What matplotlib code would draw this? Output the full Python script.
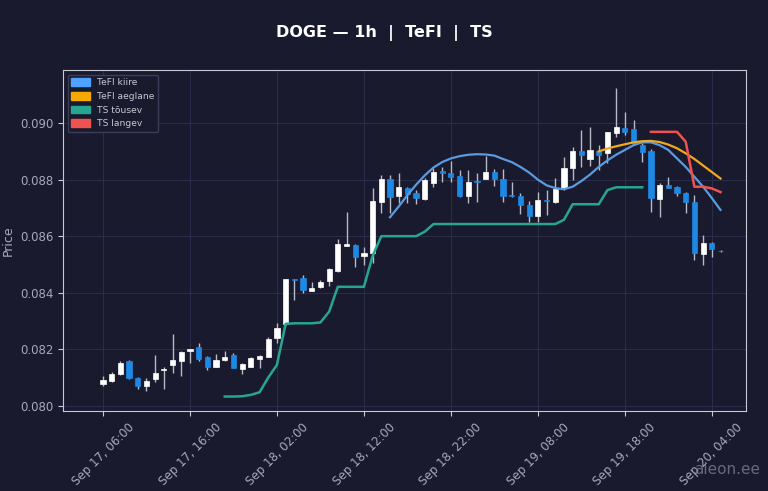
import numpy as np
import pandas as pd
import matplotlib
matplotlib.use('Agg')
import matplotlib.pyplot as plt
import matplotlib.dates as mdates
from matplotlib.patches import Patch

# hourly candles, Sep 17 06:00 -> Sep 20 05:00
times = pd.date_range('2025-09-17 06:00', periods=72, freq='h')

opens = [0.08077, 0.08089, 0.08112, 0.08159, 0.08098, 0.08071, 0.08095, 0.08128, 0.08144, 0.08160,
         0.08194, 0.08207, 0.08172, 0.08139, 0.08161, 0.08180, 0.08130, 0.08139, 0.08166, 0.08174,
         0.08239, 0.08290, 0.08449, 0.08451, 0.08407, 0.08419, 0.08442, 0.08478, 0.08565, 0.08569,
         0.08529, 0.08540, 0.08722, 0.08802, 0.08742, 0.08771, 0.08754, 0.08731, 0.08787, 0.08831,
         0.08822, 0.08813, 0.08742, 0.08795, 0.08801, 0.08828, 0.08801, 0.08746, 0.08742, 0.08710,
         0.08671, 0.08728, 0.08722, 0.08769, 0.08840, 0.08901, 0.08873, 0.08901, 0.08893, 0.08964,
         0.08984, 0.08978, 0.08922, 0.08901, 0.08731, 0.08781, 0.08773, 0.08754, 0.08720, 0.08537,
         0.08577, 0.08549]
highs = [0.08106, 0.08121, 0.08157, 0.08164, 0.08101, 0.08098, 0.08179, 0.08139, 0.08254, 0.08195,
         0.08202, 0.08222, 0.08177, 0.08183, 0.08194, 0.08186, 0.08151, 0.08174, 0.08180, 0.08243,
         0.08294, 0.08449, 0.08450, 0.08463, 0.08439, 0.08445, 0.08487, 0.08590, 0.08687, 0.08573,
         0.08561, 0.08769, 0.08816, 0.08816, 0.08822, 0.08774, 0.08763, 0.08805, 0.08840, 0.08846,
         0.08867, 0.08834, 0.08834, 0.08822, 0.08884, 0.08837, 0.08837, 0.08793, 0.08752, 0.08724,
         0.08757, 0.08763, 0.08805, 0.08879, 0.08916, 0.08975, 0.08985, 0.08922, 0.08969, 0.09123,
         0.09040, 0.09011, 0.08928, 0.08907, 0.08787, 0.08810, 0.08777, 0.08757, 0.08746, 0.08604,
         0.08581, 0.08550]
lows = [0.08071, 0.08086, 0.08110, 0.08094, 0.08059, 0.08054, 0.08084, 0.08060, 0.08118, 0.08104,
        0.08151, 0.08160, 0.08127, 0.08137, 0.08157, 0.08133, 0.08113, 0.08137, 0.08135, 0.08172,
        0.08222, 0.08285, 0.08375, 0.08400, 0.08405, 0.08417, 0.08424, 0.08475, 0.08565, 0.08490,
        0.08498, 0.08504, 0.08681, 0.08681, 0.08716, 0.08716, 0.08714, 0.08728, 0.08775, 0.08793,
        0.08793, 0.08740, 0.08716, 0.08722, 0.08801, 0.08777, 0.08722, 0.08740, 0.08678, 0.08651,
        0.08651, 0.08675, 0.08716, 0.08763, 0.08799, 0.08846, 0.08848, 0.08834, 0.08858, 0.08952,
        0.08958, 0.08928, 0.08863, 0.08687, 0.08669, 0.08769, 0.08742, 0.08681, 0.08516, 0.08498,
        0.08528, 0.08545]
closes = [0.08092, 0.08112, 0.08153, 0.08098, 0.08072, 0.08088, 0.08118, 0.08131, 0.08163, 0.08190,
          0.08200, 0.08165, 0.08139, 0.08163, 0.08174, 0.08135, 0.08147, 0.08169, 0.08177, 0.08237,
          0.08277, 0.08447, 0.08444, 0.08410, 0.08418, 0.08439, 0.08483, 0.08572, 0.08572, 0.08525,
          0.08540, 0.08724, 0.08801, 0.08740, 0.08773, 0.08748, 0.08734, 0.08799, 0.08826, 0.08822,
          0.08810, 0.08742, 0.08793, 0.08790, 0.08828, 0.08801, 0.08742, 0.08742, 0.08710, 0.08671,
          0.08728, 0.08724, 0.08766, 0.08840, 0.08901, 0.08887, 0.08905, 0.08887, 0.08967, 0.08987,
          0.08967, 0.08930, 0.08899, 0.08734, 0.08781, 0.08769, 0.08754, 0.08720, 0.08540, 0.08577,
          0.08554, 0.08546]

nan = np.nan
# TeFI fast / slow lines
tefi_fast = [nan] * 33 + [0.08667, 0.08705, 0.08745, 0.08782, 0.08815, 0.08843, 0.08862, 0.08875,
                          0.08883, 0.08888, 0.08890, 0.08889, 0.08885, 0.08873, 0.08862, 0.08845,
                          0.08825, 0.08800, 0.08780, 0.08770, 0.08766, 0.08775, 0.08795, 0.08818,
                          0.08845, 0.08868, 0.08888, 0.08905, 0.08922, 0.08932, 0.08932, 0.08922,
                          0.08905, 0.08875, 0.08845, 0.08810, 0.08775, 0.08735, 0.08693]
tefi_slow = [nan] * 57 + [0.08900, 0.08910, 0.08918, 0.08925, 0.08932, 0.08936, 0.08937, 0.08933,
                          0.08924, 0.08911, 0.08893, 0.08873, 0.08850, 0.08827, 0.08804]
# trailing stop lines
ts_up = [nan] * 14 + [0.08033, 0.08033, 0.08034, 0.08039, 0.08048, 0.08100, 0.08145, 0.08290,
                      0.08292, 0.08292, 0.08292, 0.08295, 0.08333, 0.08421, 0.08421, 0.08421,
                      0.08421, 0.08530, 0.08600, 0.08600, 0.08600, 0.08600, 0.08600, 0.08616,
                      0.08643, 0.08643, 0.08643, 0.08643, 0.08643, 0.08643, 0.08643, 0.08643,
                      0.08643, 0.08643, 0.08643, 0.08643, 0.08643, 0.08643, 0.08643, 0.08658,
                      0.08713, 0.08713, 0.08713, 0.08713, 0.08763, 0.08773, 0.08773, 0.08773,
                      0.08773] + [nan] * 9
ts_down = [nan] * 63 + [0.08969, 0.08969, 0.08969, 0.08969, 0.08934, 0.08775, 0.08775, 0.08769,
                        0.08756]

bg = '#1a1a2e'
up_col = '#ffffff'
down_col = '#1e88e5'
wick_col = '#b8b9c4'
txt_col = '#a6a9bd'

fig = plt.figure(figsize=(7.68, 4.91), dpi=100, facecolor=bg)
ax = fig.add_axes([0.082, 0.163, 0.889, 0.694], facecolor=bg)

x = mdates.date2num(times)
w = 0.6 / 24
for xi, o, h, l, c in zip(x, opens, highs, lows, closes):
    col = up_col if c >= o else down_col
    ax.vlines(xi, l, h, color=wick_col, linewidth=1.0, zorder=2)
    ax.bar(xi, max(abs(c - o), 0.000015), bottom=min(o, c), width=w, color=col,
           edgecolor=col, linewidth=0.5, zorder=3)

ax.plot(x, tefi_fast, color='#5a9be0', linewidth=1.6, zorder=4)
ax.plot(x, tefi_slow, color='#f0a81c', linewidth=1.6, zorder=4)
ax.plot(x, ts_up, color='#26a690', linewidth=1.8, zorder=4)
ax.plot(x, ts_down, color='#ef5350', linewidth=1.8, zorder=4)

ax.set_xlim(x[0] - 4.6 / 24, x[0] + 73.9 / 24)
ax.set_ylim(0.07982, 0.09187)
ax.set_yticks(np.arange(0.080, 0.0901, 0.002))
ax.yaxis.set_major_formatter(matplotlib.ticker.FormatStrFormatter('%.3f'))
ax.set_xticks(x[::10])
ax.xaxis.set_major_formatter(mdates.DateFormatter('%b %d, %H:%M'))
plt.setp(ax.get_xticklabels(), rotation=45)

ax.grid(True, color='#2c3050', linewidth=0.6)
ax.set_axisbelow(True)
for s in ax.spines.values():
    s.set_color('#c8c8d4')
ax.tick_params(colors=txt_col, labelsize=8.5)
ax.tick_params(axis='both', color='#c8c8d4')
ax.set_ylabel('Price', color=txt_col, fontsize=9)

handles = [Patch(color='#4da3ff', label='TeFI kiire'),
           Patch(color='#f5a800', label='TeFI aeglane'),
           Patch(color='#26a690', label='TS tõusev'),
           Patch(color='#ef5350', label='TS langev')]
leg = ax.legend(handles=handles, loc='upper left', fontsize=6.6, facecolor=bg,
                edgecolor='#3a3e58', labelcolor='#c8c8d4', framealpha=1,
                handlelength=2.0, handleheight=0.9)

fig.suptitle('DOGE — 1h  |  TeFI  |  TS', color='white', fontsize=11.5,
             fontweight='bold', y=0.95)
fig.text(0.99, 0.035, 'aieon.ee', color='#7a7d90', fontsize=11, ha='right', alpha=0.8)

plt.savefig('out.png', dpi=100, facecolor=bg)
